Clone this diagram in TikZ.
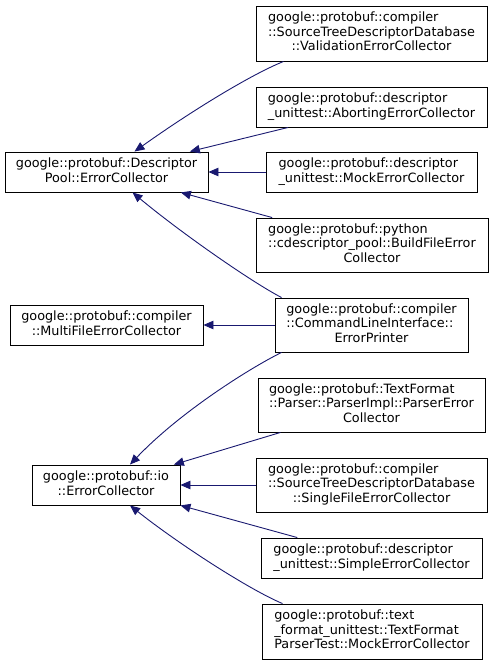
\documentclass[tikz,border=0pt]{standalone}
\usepackage{fontspec}
\setmainfont{DejaVu Sans}
\usetikzlibrary{arrows.meta,calc}
\definecolor{edgeblue}{HTML}{191970}
\newcommand{\lines}[1]{\begin{tabular}{@{}l@{}}#1\end{tabular}}
\newcommand{\cl}[1]{\multicolumn{1}{@{}c@{}}{#1}}
\renewcommand{\arraystretch}{1}
\begin{document}
\begin{tikzpicture}[x=1pt,y=-1pt,
  box/.style={draw=black,line width=0.9pt,fill=white,inner sep=0pt,align=center,
    font=\fontsize{12.8}{14.5}\selectfont},
  edge/.style={draw=edgeblue,line width=0.9pt,-{Triangle[length=10pt,width=8.5pt]}}]
\useasboundingbox (0,0) rectangle (493,665);
% nodes
\node[box,minimum width=231pt,minimum height=55pt] (n1) at (371.5,33.5)
  {\lines{google::protobuf::compiler\\::SourceTreeDescriptorDatabase\\\cl{::ValidationErrorCollector}}};
\node[box,minimum width=231pt,minimum height=40pt] (n2) at (371.5,107)
  {\lines{google::protobuf::descriptor\\\_unittest::AbortingErrorCollector}};
\node[box,minimum width=203pt,minimum height=40pt] (pool) at (106.5,172)
  {\lines{google::protobuf::Descriptor\\\cl{Pool::ErrorCollector}}};
\node[box,minimum width=211pt,minimum height=40pt] (n3) at (371.5,172)
  {\lines{google::protobuf::descriptor\\\_unittest::MockErrorCollector}};
\node[box,minimum width=232pt,minimum height=54pt] (n4) at (372,245)
  {\lines{google::protobuf::python\\::cdescriptor\_pool::BuildFileError\\\cl{Collector}}};
\node[box,minimum width=193pt,minimum height=54pt] (n5) at (371.5,325)
  {\lines{google::protobuf::compiler\\::CommandLineInterface::\\\cl{ErrorPrinter}}};
\node[box,minimum width=193pt,minimum height=40pt] (multi) at (106.5,325)
  {\lines{google::protobuf::compiler\\\cl{::MultiFileErrorCollector}}};
\node[box,minimum width=227pt,minimum height=54pt] (n6) at (371.5,405)
  {\lines{google::protobuf::TextFormat\\::Parser::ParserImpl::ParserError\\\cl{Collector}}};
\node[box,minimum width=148pt,minimum height=40pt] (io) at (106,485)
  {\lines{google::protobuf::io\\\cl{::ErrorCollector}}};
\node[box,minimum width=231pt,minimum height=54pt] (n7) at (371.5,485)
  {\lines{google::protobuf::compiler\\::SourceTreeDescriptorDatabase\\\cl{::SingleFileErrorCollector}}};
\node[box,minimum width=221pt,minimum height=40pt] (n8) at (371.5,558)
  {\lines{google::protobuf::descriptor\\\_unittest::SimpleErrorCollector}};
\node[box,minimum width=220pt,minimum height=55pt] (n9) at (372,631.5)
  {\lines{google::protobuf::text\\\_format\_unittest::TextFormat\\ParserTest::MockErrorCollector}};
% edges
\draw[edge] ($(n1.south west)+(28,0)$) .. controls (250,75) and (190,112) .. ($(pool.north)+(28,0)$);
\draw[edge] (n2) -- (pool);
\draw[edge] (n3) -- (pool);
\draw[edge] (n4) -- (pool);
\draw[edge] ($(n5.north west)+(7,0)$) .. controls (250,281) and (180,232) .. ($(pool.south)+(26,0)$);
\draw[edge] (n5) -- (multi);
\draw[edge] ($(n5.south west)+(7,0)$) .. controls (250,368) and (180,412) .. ($(io.north)+(24,0)$);
\draw[edge] (n6) -- (io);
\draw[edge] (n7) -- (io);
\draw[edge] (n8) -- (io);
\draw[edge] ($(n9.north west)+(21,0)$) .. controls (250,590) and (180,545) .. ($(io.south)+(24,0)$);
\end{tikzpicture}
\end{document}
